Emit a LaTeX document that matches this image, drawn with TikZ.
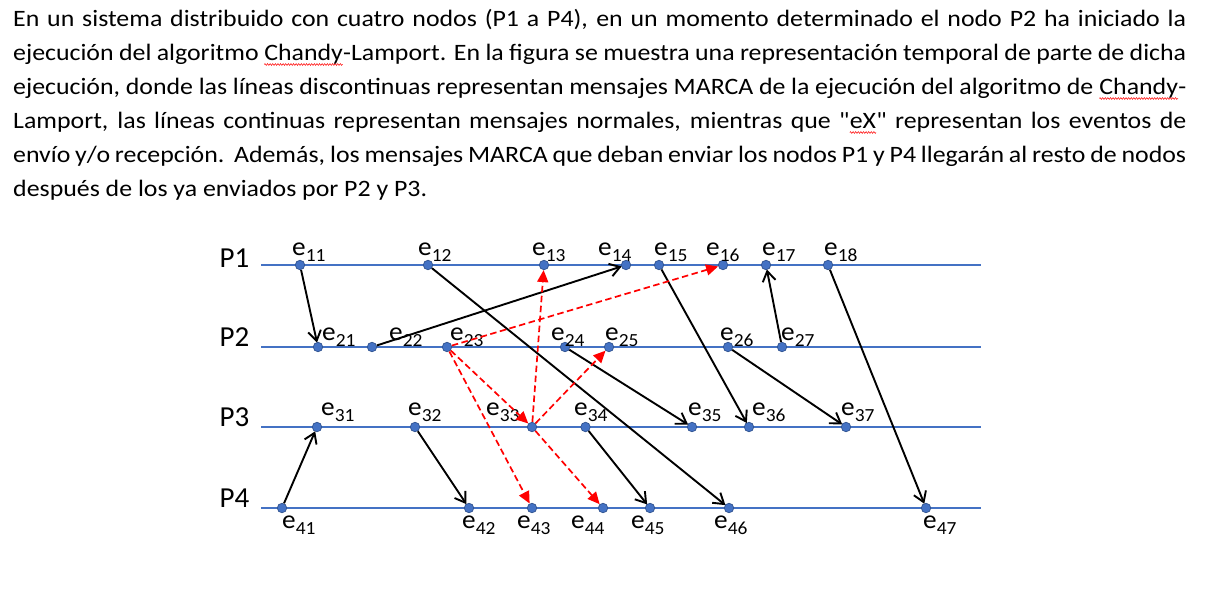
\documentclass[tikz,border=0pt]{standalone}
\usepackage{fontspec}
\setmainfont{Carlito}
\newfontfamily\bodyfont[FakeStretch=1.1, Ligatures=TeXOff]{Carlito}
\newfontfamily\labfont[FakeStretch=1.05]{Carlito}
\usetikzlibrary{arrows.meta,decorations.pathmorphing}
\definecolor{lineblue}{HTML}{4472C4}
\definecolor{dotedge}{HTML}{2F528F}
\newcommand\spellwave[1]{\tikz[baseline=(w.base)]{\node[inner sep=0pt,outer sep=0pt] (w) {#1}; \draw[red, line width=0.5pt, decorate, decoration={zigzag, amplitude=0.9pt, segment length=2.6pt}] ([yshift=-4pt]w.base west) -- ([yshift=-4pt]w.base east);}}
\newcommand\evlab[1]{e\raisebox{-6pt}{\fontsize{18.5}{18.5}\selectfont #1}}
\tikzset{
  txt/.style={anchor=base west, inner sep=0pt, font=\bodyfont\fontsize{23.5}{28}\selectfont},
  plab/.style={anchor=base west, inner sep=0pt, font=\fontsize{29}{29}\selectfont},
  elab/.style={anchor=base west, inner sep=0pt, font=\labfont\fontsize{26}{26}\selectfont},
  tline/.style={draw=lineblue, line width=1.9pt},
  dot/.style={circle, fill=lineblue, draw=dotedge, line width=0.7pt, minimum size=9.5pt, inner sep=0pt},
  msg/.style={draw=black, line width=1.9pt, -{Straight Barb[length=10pt,width=13pt,line width=1.9pt]}, shorten >=-0.5pt},
  marca/.style={draw=red, line width=1.7pt, dash pattern=on 6.5pt off 3.5pt, -{Triangle[length=12pt,width=11pt]}}
}
\begin{document}
\begin{tikzpicture}[x=1pt,y=-1pt]
\useasboundingbox (0,0) rectangle (1206,602);
% text
\node[txt] (t1) at (13,26.5) {\makebox[1173pt][s]{En un sistema distribuido con cuatro nodos (P1 a P4), en un momento determinado el nodo P2 ha iniciado la}};
\node[txt] (t2) at (13,60.5) {\makebox[1173pt][s]{ejecución del algoritmo \spellwave{Chandy}-Lamport. En la figura se muestra una representación temporal de parte de dicha}};
\node[txt] (t3) at (13,94.5) {\makebox[1173pt][s]{ejecución, donde las líneas discontinuas representan mensajes MARCA de la ejecución del algoritmo de \spellwave{Chandy}-}};
\node[txt] (t4) at (13,128.5) {\makebox[1173pt][s]{Lamport, las líneas continuas representan mensajes normales, mientras que "\spellwave{eX}" representan los eventos de}};
\node[txt] (t5) at (13,162.5) {\makebox[1173pt][s]{envío y/o recepción.\ \ Además, los mensajes MARCA que deban enviar los nodos P1 y P4 llegarán al resto de nodos}};
\node[txt] (t6) at (13,196.5) {después de los ya enviados por P2 y P3.};
% process lines
\coordinate (l1s) at (261,265); \coordinate (l1e) at (981,265);
\coordinate (l2s) at (261,347); \coordinate (l2e) at (981,347);
\coordinate (l3s) at (261,427); \coordinate (l3e) at (981,427);
\coordinate (l4s) at (261,508); \coordinate (l4e) at (981,508);
\draw[tline] (l1s) -- (l1e);
\draw[tline] (l2s) -- (l2e);
\draw[tline] (l3s) -- (l3e);
\draw[tline] (l4s) -- (l4e);
\node[plab] (P1) at (219.5,267) {P1};
\node[plab] (P2) at (219.5,346.5) {P2};
\node[plab] (P3) at (219.5,426.5) {P3};
\node[plab] (P4) at (219.5,507.5) {P4};
% events P1
\foreach \n/\x/\lx in {11/300/292,12/428/418,13/544/532,14/626/598,15/659/654,16/723/706,17/766/762,18/828/824}{
  \node[dot] (e\n) at (\x,265) {};
  \node[elab] (le\n) at (\lx,255) {\evlab{\n}};
}
% events P2
\foreach \n/\x/\lx in {21/318/322,22/372/389,23/447/450,24/565/551,25/609/605,26/728/720,27/782/781}{
  \node[dot] (e\n) at (\x,347) {};
  \node[elab] (le\n) at (\lx,340) {\evlab{\n}};
}
% events P3
\foreach \n/\x/\lx in {31/317/321,32/415/408,33/532/486,34/585.5/574,35/692/688,36/749/752,37/846/841}{
  \node[dot] (e\n) at (\x,427) {};
  \node[elab] (le\n) at (\lx,415) {\evlab{\n}};
}
% events P4
\foreach \n/\x/\lx in {41/282/282,42/469/462,43/532/517,44/603/571,45/650/631,46/729/714,47/926/923}{
  \node[dot] (e\n) at (\x,508) {};
  \node[elab] (le\n) at (\lx,528) {\evlab{\n}};
}
% normal messages
\draw[msg] (e11) -- (e21);
\draw[msg] (e22) -- (e14);
\draw[msg] (e12) -- (e46);
\draw[msg] (e15) -- (e36);
\draw[msg] (e27) -- (e17);
\draw[msg] (e18) -- (e47);
\draw[msg] (e24) -- (e35);
\draw[msg] (e26) -- (e37);
\draw[msg] (e41) -- (e31);
\draw[msg] (e32) -- (e42);
\draw[msg] (e34) -- (e45);
% marker messages
\draw[marca] (e23) -- (e16);
\draw[marca] (e23) -- (e33);
\draw[marca] (e23) -- (e43);
\draw[marca] (e33) -- (e13);
\draw[marca] (e33) -- (e25);
\draw[marca] (e33) -- (e44);
\end{tikzpicture}
\end{document}
